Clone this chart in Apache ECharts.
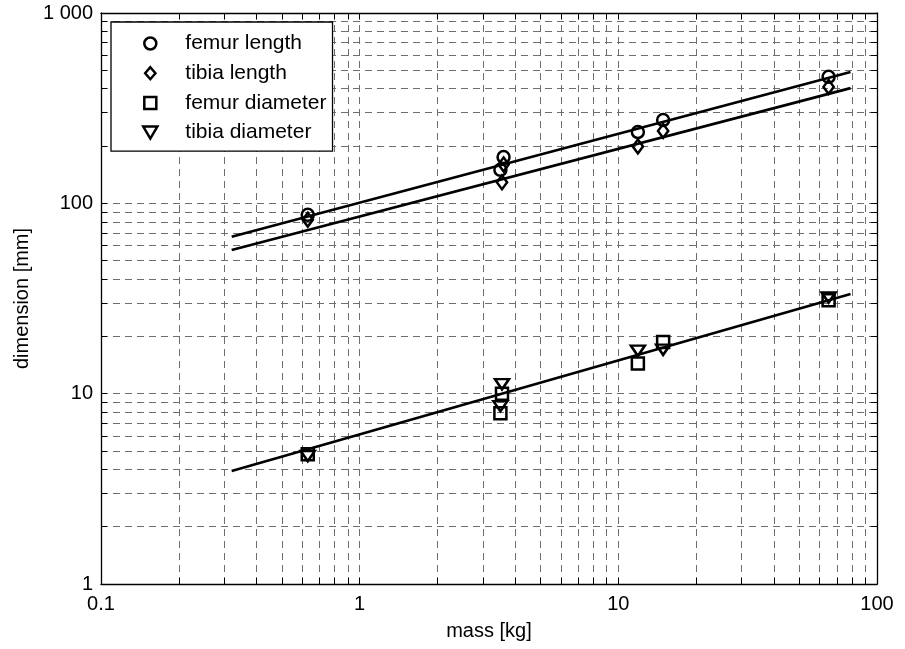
<!DOCTYPE html>
<html><head><meta charset="utf-8">
<script src="https://cdn.jsdelivr.net/npm/echarts@6/dist/echarts.min.js"></script>
<style>html,body{margin:0;padding:0;background:#fff}#c{width:905px;height:649px}</style>
</head><body><div id="c"></div>
<script>
// ---- data ----
const femurLengthMass = [0.63, 3.6, 3.5, 11.9, 14.9, 65];
const femurLength     = [87, 175, 150, 237, 274, 462];
const tibiaLengthMass = [0.63, 3.6, 3.55, 11.9, 14.9, 65];
const tibiaLength     = [82, 160, 129, 199, 240, 409];
const femurDiamMass   = [0.63, 3.55, 3.5, 11.9, 14.9, 65];
const femurDiameter   = [4.8, 10.0, 7.9, 14.4, 18.7, 31];
const tibiaDiamMass   = [0.63, 3.55, 3.5, 11.9, 14.9, 65];
const tibiaDiameter   = [4.7, 11.2, 8.6, 16.8, 17.0, 32];
const fitMass         = [0.32, 79];
const femurLengthFit  = [66.8, 490];
const tibiaLengthFit  = [56.9, 403];
const diameterFit     = [3.92, 33.4];
const xTickValues = [0.1,0.2,0.3,0.4,0.5,0.6,0.7,0.8,0.9,1,2,3,4,5,6,7,8,9,10,20,30,40,50,60,70,80,90,100];
const yTickValues = [1,2,3,4,5,6,7,8,9,10,20,30,40,50,60,70,80,90,100,200,300,400,500,600,700,800,900,1000];
const xLabelValues = [0.1, 1, 10, 100];
const yLabelValues = [1, 10, 100, 1000];
const legendNames = ['femur length','tibia length','femur diameter','tibia diameter'];

const zip = (a, b) => a.map((v, i) => [v, b[i]]);
const FONT = "'Liberation Sans', Arial, sans-serif";
const gridLine = {show: true, lineStyle: {color: '#6e6e6e', width: 1, type: [7, 5]}};
const axLine = {show: true, onZero: false, lineStyle: {color: '#000', width: 1.3}};
const tick = (vals) => ({show: true, inside: true, length: 6, customValues: vals, lineStyle: {color: '#000', width: 1}});

function xAx(pos, main) {
  return {type: 'log', logBase: 10, min: 0.1, max: 100, position: pos,
    axisLine: axLine, axisTick: tick(xTickValues),
    splitLine: main ? gridLine : {show: false}, minorSplitLine: {show: false},
    axisLabel: main ? {show: true, customValues: xLabelValues, margin: 10, color: '#000', fontSize: 20, fontFamily: FONT,
       formatter: v => String(v)} : {show: false},
    name: main ? 'mass [kg]' : '', nameLocation: 'middle', nameGap: 37,
    nameTextStyle: {color: '#000', fontSize: 20, fontFamily: FONT}};
}
function yAx(pos, main) {
  return {type: 'log', logBase: 10, min: 1, max: 1000, position: pos,
    axisLine: axLine, axisTick: tick(yTickValues),
    splitLine: main ? gridLine : {show: false}, minorSplitLine: {show: false},
    axisLabel: main ? {show: true, customValues: yLabelValues, margin: 8, color: '#000', fontSize: 20, fontFamily: FONT,
       formatter: v => v >= 1000 ? '1 000' : String(v)} : {show: false},
    name: main ? 'dimension [mm]' : '', nameLocation: 'middle', nameGap: 52, nameRotate: 90,
    nameTextStyle: {color: '#000', fontSize: 20, fontFamily: FONT}};
}
const markerStyle = {color: 'rgba(0,0,0,0)', borderColor: '#000', borderWidth: 2.5, opacity: 1};
const CIRCLE = 'circle';
const DIAMOND = 'path://M6,0L12,7L6,14L0,7Z';
const SQUARE = 'path://M0,0L10,0L10,10L0,10Z';
const DOWN_TRI = 'path://M0,0L20,0L10,17Z';
function scatter(name, symbol, data, size) {
  return {type: 'scatter', name, symbol, symbolSize: size, symbolKeepAspect: true, data,
    itemStyle: markerStyle, z: 5};
}
function fit(data) {
  return {type: 'line', data, symbol: 'none', showSymbol: false, silent: true,
    lineStyle: {color: '#000', width: 2.6}, z: 4};
}

const chart = echarts.init(document.getElementById('c'), null, {renderer: 'canvas'});
chart.setOption({
  animation: false,
  backgroundColor: '#fff',
  textStyle: {fontFamily: FONT},
  grid: {left: 101, right: 28, top: 13, bottom: 65, containLabel: false},
  xAxis: [xAx('bottom', true), xAx('top', false)],
  yAxis: [yAx('left', true), yAx('right', false)],
  legend: {
    data: legendNames, orient: 'vertical', left: 111, top: 22,
    padding: [11, 6, 8, 31], itemGap: 8.7, itemWidth: 60, itemHeight: 12,
    backgroundColor: '#fff', borderColor: '#000', borderWidth: 1.3, borderRadius: 0,
    itemStyle: {borderWidth: 2.5, opacity: 1},
    textStyle: {color: '#000', fontSize: 21, fontFamily: FONT, lineHeight: 20}
  },
  series: [
    fit(zip(fitMass, femurLengthFit)),
    fit(zip(fitMass, tibiaLengthFit)),
    fit(zip(fitMass, diameterFit)),
    scatter('femur length', CIRCLE, zip(femurLengthMass, femurLength), 12),
    scatter('tibia length', DIAMOND, zip(tibiaLengthMass, tibiaLength), [12, 14]),
    scatter('femur diameter', SQUARE, zip(femurDiamMass, femurDiameter), 12),
    scatter('tibia diameter', DOWN_TRI, zip(tibiaDiamMass, tibiaDiameter), [14, 12])
  ]
});
</script></body></html>
